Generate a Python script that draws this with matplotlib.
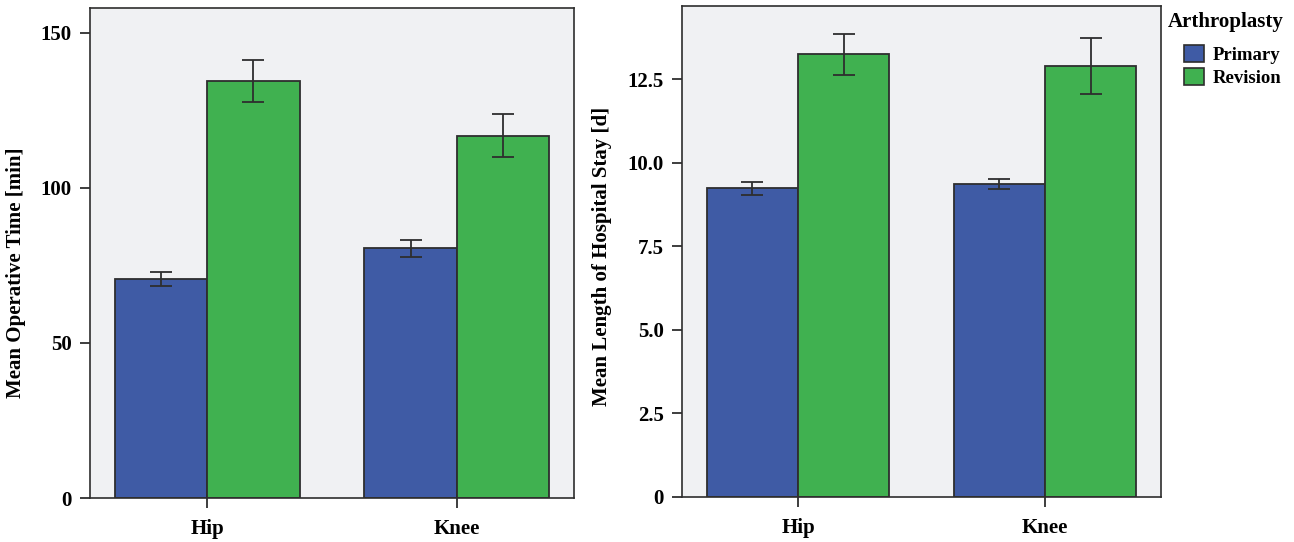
import numpy as np
import matplotlib.pyplot as plt
from matplotlib.patches import Patch

plt.rcParams['font.family'] = ['Liberation Serif', 'DejaVu Serif']
plt.rcParams['font.weight'] = 'bold'

# group means and 95% CI bounds
joints = ['Hip', 'Knee']
groups = ['Primary', 'Revision']

op_time = {'Primary': [70.6, 80.6], 'Revision': [134.5, 116.8]}
op_time_lo = {'Primary': [68.4, 77.7], 'Revision': [127.7, 110.0]}
op_time_hi = {'Primary': [73.0, 83.2], 'Revision': [141.3, 123.9]}

stay = {'Primary': [9.25, 9.37], 'Revision': [13.25, 12.89]}
stay_lo = {'Primary': [9.04, 9.22], 'Revision': [12.62, 12.08]}
stay_hi = {'Primary': [9.43, 9.52], 'Revision': [13.85, 13.73]}

colors = {'Primary': '#3f5ba5', 'Revision': '#40b150'}
edge = '#2e2e2e'
bg = '#f0f1f3'
fs = 15

fig = plt.figure(figsize=(12.94, 5.42), dpi=100)
ax1 = fig.add_axes([90 / 1294, 44 / 542, 484 / 1294, 490 / 542])
ax2 = fig.add_axes([682 / 1294, 45 / 542, 479 / 1294, 491 / 542])

x = np.arange(len(joints))
width = 0.37


def draw_panel(ax, means, lo, hi, ylim, yticks, yticklabels, ylabel):
    ax.set_facecolor(bg)
    for i, g in enumerate(groups):
        pos = x - width / 2 if i == 0 else x + width / 2
        m = np.array(means[g])
        err = np.vstack([m - np.array(lo[g]), np.array(hi[g]) - m])
        ax.bar(pos, m, width, color=colors[g], edgecolor=edge, linewidth=1.3, zorder=2)
        ax.errorbar(pos, m, yerr=err, fmt='none', ecolor=edge, elinewidth=1.3,
                    capsize=8, capthick=1.3, zorder=3)
    ax.set_xlim(-0.47, 1.47)
    ax.set_ylim(*ylim)
    ax.set_xticks(x)
    ax.set_xticklabels(joints, fontsize=fs, fontweight='bold')
    ax.set_yticks(yticks)
    ax.set_yticklabels(yticklabels, fontsize=fs, fontweight='bold')
    ax.set_ylabel(ylabel, fontsize=fs, fontweight='bold', labelpad=9)
    ax.tick_params(axis='both', direction='out', length=7, width=1.3, color=edge)
    ax.tick_params(axis='y', pad=6)
    ax.tick_params(axis='x', pad=8)
    for s in ax.spines.values():
        s.set_color(edge)
        s.set_linewidth(1.2)


draw_panel(ax1, op_time, op_time_lo, op_time_hi, (0, 158),
           [0, 50, 100, 150], ['0', '50', '100', '150'],
           'Mean Operative Time [min]')
draw_panel(ax2, stay, stay_lo, stay_hi, (0, 14.7),
           [0, 2.5, 5.0, 7.5, 10.0, 12.5], ['0', '2.5', '5.0', '7.5', '10.0', '12.5'],
           'Mean Length of Hospital Stay [d]')
ax1.yaxis.set_label_coords(-0.132, 0.46)
ax2.yaxis.set_label_coords(-0.146, 0.49)

# legend: title flush left, entries indented below it
fig.text(1168 / 1294, 1 - 22 / 542, 'Arthroplasty', fontsize=fs, fontweight='bold',
         ha='left', va='center')
handles = [Patch(facecolor=colors[g], edgecolor=edge, linewidth=1.2, label=g) for g in groups]
fig.legend(handles=handles, loc='upper left',
           bbox_to_anchor=(1184 / 1294, 1 - 45 / 542), frameon=False,
           prop={'size': 13.5, 'weight': 'bold'}, handlelength=1.05, handleheight=1.05,
           handletextpad=0.5, labelspacing=0.2, borderaxespad=0, borderpad=0)

fig.savefig('out.png', dpi=100, facecolor='white')
